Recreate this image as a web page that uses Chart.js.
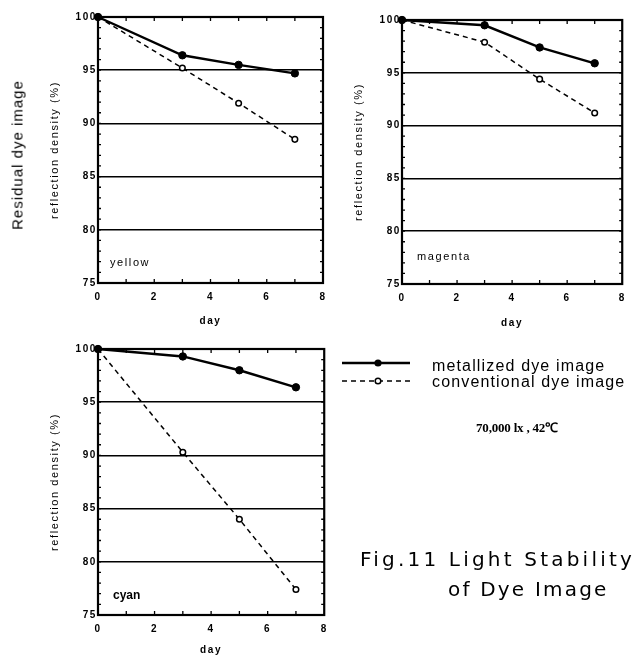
<!DOCTYPE html>
<html><head><meta charset="utf-8">
<script src="https://cdn.jsdelivr.net/npm/chart.js@4/dist/chart.umd.min.js"></script>
<style>
html,body{margin:0;padding:0;background:#fff}
body{width:633px;height:656px;position:relative;overflow:hidden;font-family:"Liberation Sans",Arial,sans-serif;color:#000}
canvas{position:absolute}
.t{position:absolute;white-space:nowrap;line-height:1}
</style></head><body>
<canvas id="c1" width="335" height="335" style="left:0;top:0"></canvas>
<canvas id="c2" width="298" height="335" style="left:335px;top:0"></canvas>
<canvas id="c3" width="335" height="321" style="left:0;top:335px"></canvas>

<div class="t" style="left:17px;top:155px;font-size:15px;letter-spacing:1px;transform:translate(-50%,-50%) rotate(-90deg)">Residual dye image</div>
<div class="t" style="left:110px;top:257px;font-size:11px;letter-spacing:1.6px">yellow</div>
<div class="t" style="left:417px;top:251px;font-size:11px;letter-spacing:1.6px">magenta</div>
<div class="t" style="left:113px;top:589px;font-size:12px;font-weight:bold">cyan</div>

<svg style="position:absolute;left:0;top:0" width="633" height="656">
  <line x1="342" y1="363" x2="410" y2="363" stroke="#000" stroke-width="2.4"/>
  <circle cx="378" cy="363" r="3.6" fill="#000"/>
  <line x1="342" y1="381" x2="410" y2="381" stroke="#000" stroke-width="1.5" stroke-dasharray="5,4"/>
  <circle cx="378" cy="381" r="2.8" fill="#fff" stroke="#000" stroke-width="1.5"/>
</svg>
<div class="t" style="left:432px;top:358px;font-size:16px;letter-spacing:1.15px">metallized dye image</div>
<div class="t" style="left:432px;top:374px;font-size:16px;letter-spacing:1.15px">conventional dye image</div>
<div class="t" style="left:517px;top:427px;transform:translate(-50%,-50%);font-family:'Liberation Serif',serif;font-weight:bold;font-size:13px;letter-spacing:-0.2px">70,000 lx , 42℃</div>
<div class="t" style="left:360px;top:549px;font-family:'DejaVu Sans',sans-serif;font-size:20px;letter-spacing:3.2px">Fig.11 Light Stability</div>
<div class="t" style="left:448px;top:579px;font-family:'DejaVu Sans',sans-serif;font-size:20px;letter-spacing:2.2px">of Dye Image</div>

<script>
// ---- data ----
const days = [0, 3, 5, 7];
const yellowMetallized = [100, 96.4, 95.5, 94.7];
const yellowConventional = [100, 95.2, 91.9, 88.5];
const magentaMetallized = [100, 99.5, 97.4, 95.9];
const magentaConventional = [100, 97.9, 94.4, 91.2];
const cyanMetallized = [100, 99.3, 98.0, 96.4];
const cyanConventional = [100, 90.3, 84.0, 77.4];
const xTickLabels = [0, 2, 4, 6, 8];
const yTickLabels = [75, 80, 85, 90, 95, 100];
const gridValues = [80, 85, 90, 95];
const seriesNames = ['metallized dye image', 'conventional dye image'];

const spacingPlugin = {
  id: 'spacing',
  beforeDraw(chart) { chart.ctx.letterSpacing = '1.6px'; }
};
const framePlugin = {
  id: 'frame',
  beforeDatasetsDraw(chart) {
    const {ctx, chartArea: a, scales: {x, y}} = chart;
    ctx.save();
    ctx.strokeStyle = '#000';
    ctx.lineWidth = 1.3;
    ctx.beginPath();
    for (let v = y.min + 1; v < y.max; v++) {
      const py = y.getPixelForValue(v);
      ctx.moveTo(a.left, py); ctx.lineTo(a.left + 3, py);
      ctx.moveTo(a.right, py); ctx.lineTo(a.right - 3, py);
    }
    for (let d = x.min + 1; d < x.max; d++) {
      const px = x.getPixelForValue(d);
      ctx.moveTo(px, a.top); ctx.lineTo(px, a.top + 4);
      ctx.moveTo(px, a.bottom); ctx.lineTo(px, a.bottom - 4);
    }
    ctx.stroke();
    ctx.lineWidth = 2.2;
    ctx.strokeRect(a.left, a.top, a.right - a.left, a.bottom - a.top);
    ctx.restore();
  }
};

function pts(vals) { return days.map((d, i) => ({x: d, y: vals[i]})); }

function makeChart(id, metal, conv, pad, xHeight, xTickPad, titlePad, yTitlePad) {
  return new Chart(document.getElementById(id), {
    type: 'line',
    data: {
      datasets: [
        {label: seriesNames[0], data: pts(metal), borderColor: '#000', borderWidth: 2.4,
         pointRadius: 3.7, pointBackgroundColor: '#000', pointBorderColor: '#000', pointBorderWidth: 1,
         tension: 0, clip: false},
        {label: seriesNames[1], data: pts(conv), borderColor: '#000', borderWidth: 1.5, borderDash: [5, 4],
         pointRadius: 2.8, pointBackgroundColor: '#fff', pointBorderColor: '#000', pointBorderWidth: 1.5,
         tension: 0, clip: false}
      ]
    },
    options: {
      responsive: false, animation: false, devicePixelRatio: 1,
      layout: {padding: pad},
      plugins: {legend: {display: false}, tooltip: {enabled: false}},
      scales: {
        x: {
          type: 'linear', min: 0, max: 8,
          afterBuildTicks(s) { s.ticks = xTickLabels.map(v => ({value: v})); },
          afterFit(s) { s.height = xHeight; },
          grid: {display: false, drawTicks: false},
          border: {display: false},
          ticks: {color: '#000', padding: xTickPad, font: {family: 'Liberation Sans', size: 10, weight: 'bold'}, maxRotation: 0},
          title: {display: true, text: 'day', color: '#000', padding: {top: 0, bottom: titlePad},
                  font: {family: 'Liberation Sans', size: 10, weight: 'bold'}}
        },
        y: {
          type: 'linear', min: 75, max: 100,
          afterBuildTicks(s) { s.ticks = yTickLabels.map(v => ({value: v})); },
          afterFit(s) { s.width = 58; },
          grid: {drawTicks: false, lineWidth: 1.6,
                 color: c => gridValues.includes(c.tick.value) ? '#000' : 'rgba(0,0,0,0)'},
          border: {display: false},
          ticks: {color: '#000', padding: 1, font: {family: 'Liberation Sans', size: 10, weight: 'bold'}},
          title: {display: true, text: 'reflection density (%)', color: '#000', padding: {top: yTitlePad, bottom: 0},
                  font: {family: 'Liberation Sans', size: 11}}
        }
      }
    },
    plugins: [spacingPlugin, framePlugin]
  });
}

makeChart('c1', yellowMetallized, yellowConventional, {left: 40, top: 17, right: 12, bottom: 7}, 45, 8, 1, 8);
makeChart('c2', magentaMetallized, magentaConventional, {left: 9, top: 20, right: 5, bottom: 6}, 45, 8, 0, 8);
makeChart('c3', cyanMetallized, cyanConventional, {left: 40, top: 14, right: 10, bottom: 0}, 41, 8, 0, 8);
</script>
</body></html>
